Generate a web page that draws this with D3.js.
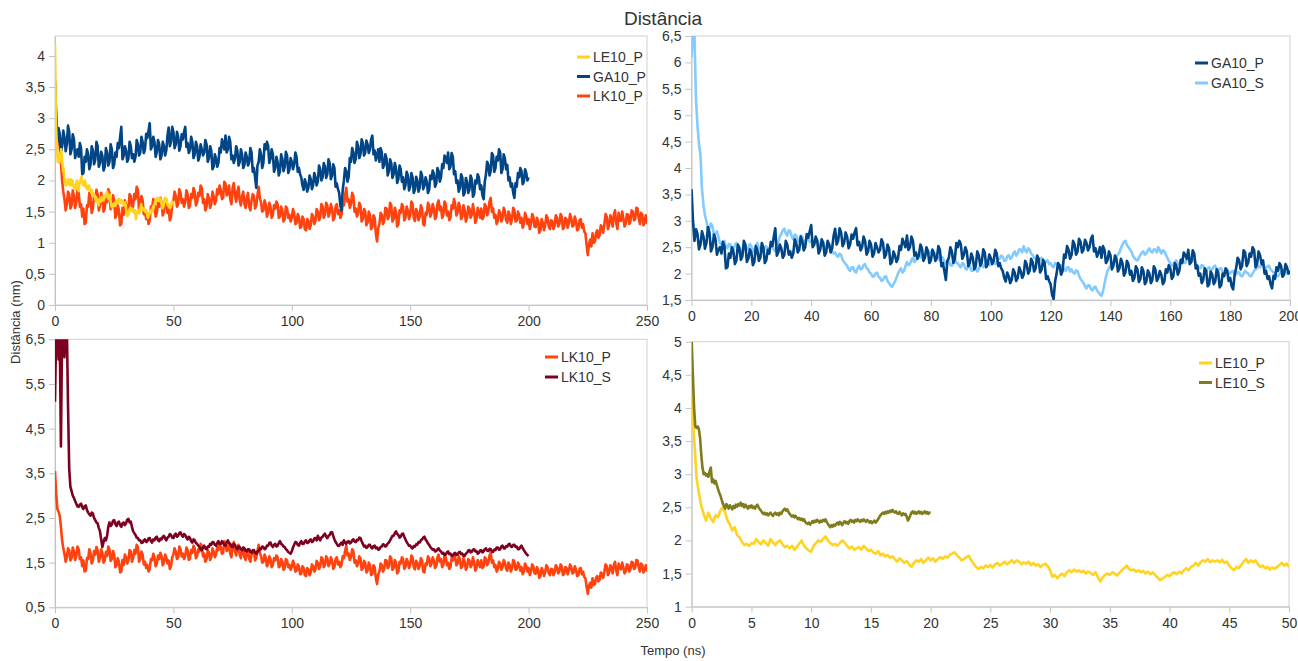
<!DOCTYPE html>
<html>
<head>
<meta charset="utf-8">
<script src="https://cdn.jsdelivr.net/npm/d3@7"></script>
<style>
  body { margin: 0; background: #ffffff; }
  svg { display: block; font-family: "Liberation Sans", Arial, sans-serif; }
</style>
</head>
<body>
<svg id="chart" width="1298" height="661"></svg>
<script>
// Sampling interval (ns) of each trajectory
const longStep = 0.5;
const le10pStep = 0.2;
const le10sStep = 0.1;

// GA10_P, 0–200 ns
const ga10P = [
  3.60, 3.00, 2.62, 2.84, 2.75, 2.46, 2.55, 2.80, 2.70, 2.47,
  2.58, 2.88, 2.78, 2.42, 2.50, 2.74, 2.66, 2.36, 2.45, 2.50,
  2.38, 2.60, 2.52, 2.10, 2.12, 2.38, 2.30, 2.50, 2.42, 2.18,
  2.25, 2.55, 2.48, 2.26, 2.33, 2.62, 2.55, 2.22, 2.28, 2.46,
  2.40, 2.16, 2.22, 2.52, 2.45, 2.24, 2.30, 2.58, 2.50, 2.20,
  2.26, 2.45, 2.38, 2.60, 2.52, 2.70, 2.86, 2.34, 2.40, 2.55,
  2.48, 2.30, 2.35, 2.62, 2.55, 2.36, 2.42, 2.30, 2.38, 2.65,
  2.58, 2.40, 2.45, 2.70, 2.62, 2.44, 2.50, 2.75, 2.68, 2.80,
  2.92, 2.50, 2.55, 2.70, 2.62, 2.38, 2.45, 2.65, 2.58, 2.34,
  2.40, 2.62, 2.55, 2.40, 2.48, 2.72, 2.85, 2.55, 2.62, 2.86,
  2.78, 2.52, 2.58, 2.78, 2.70, 2.48, 2.55, 2.74, 2.66, 2.78,
  2.86, 2.54, 2.60, 2.44, 2.50, 2.70, 2.62, 2.36, 2.42, 2.62,
  2.55, 2.32, 2.38, 2.58, 2.50, 2.40, 2.45, 2.65, 2.58, 2.30,
  2.36, 2.55, 2.48, 2.18, 2.22, 2.42, 2.35, 2.22, 2.28, 2.52,
  2.45, 2.66, 2.58, 2.50, 2.72, 2.45, 2.50, 2.70, 2.62, 2.34,
  2.40, 2.28, 2.35, 2.55, 2.48, 2.24, 2.30, 2.50, 2.42, 2.20,
  2.25, 2.45, 2.38, 2.24, 2.30, 2.52, 2.45, 2.14, 2.20, 2.05,
  1.88, 2.24, 2.30, 2.50, 2.42, 2.20, 2.28, 2.58, 2.50, 2.62,
  2.56, 2.28, 2.35, 2.50, 2.42, 2.14, 2.20, 2.38, 2.30, 2.08,
  2.15, 2.42, 2.35, 2.15, 2.22, 2.46, 2.40, 2.12, 2.18, 2.36,
  2.30, 2.18, 2.25, 2.45, 2.38, 2.14, 2.20, 2.10, 2.05, 1.92,
  1.85, 2.02, 1.95, 1.82, 1.88, 2.08, 2.02, 1.86, 1.92, 2.12,
  2.05, 1.92, 1.98, 2.24, 2.18, 2.00, 2.05, 2.28, 2.22, 2.04,
  2.10, 2.34, 2.28, 2.02, 2.08, 2.26, 2.20, 1.90, 1.95, 1.86,
  1.80, 1.60, 1.52, 1.85, 2.00, 2.20, 2.15, 1.98, 2.05, 2.36,
  2.30, 2.52, 2.45, 2.28, 2.35, 2.62, 2.55, 2.36, 2.42, 2.66,
  2.60, 2.40, 2.45, 2.64, 2.58, 2.44, 2.50, 2.66, 2.72, 2.42,
  2.48, 2.32, 2.40, 2.50, 2.30, 2.52, 2.45, 2.20, 2.25, 2.42,
  2.35, 2.08, 2.15, 2.34, 2.28, 2.04, 2.10, 2.28, 2.20, 1.96,
  2.02, 2.24, 2.18, 1.98, 2.05, 1.86, 1.92, 2.14, 2.08, 1.84,
  1.90, 2.12, 2.05, 1.80, 1.85, 2.06, 2.00, 1.82, 1.88, 2.14,
  2.08, 1.86, 1.92, 2.05, 1.98, 1.80, 1.85, 2.08, 2.02, 2.16,
  2.10, 1.90, 1.95, 2.20, 2.15, 1.98, 2.05, 2.26, 2.20, 2.40,
  2.35, 2.28, 2.45, 2.18, 2.22, 2.44, 2.38, 2.10, 2.15, 1.96,
  2.00, 1.82, 1.88, 2.10, 2.05, 1.76, 1.80, 2.04, 1.98, 1.80,
  1.85, 2.08, 2.02, 1.74, 1.78, 2.00, 1.95, 2.10, 2.05, 1.86,
  1.92, 1.76, 1.70, 1.98, 2.10, 2.30, 2.25, 2.08, 2.15, 2.44,
  2.40, 2.14, 2.20, 2.38, 2.32, 2.50, 2.45, 2.12, 2.18, 2.42,
  2.35, 2.18, 2.25, 2.00, 2.05, 1.90, 1.95, 1.80, 1.72, 1.96,
  1.90, 2.12, 2.05, 2.20, 2.15, 1.94, 1.98, 2.18, 2.12, 2.00,
  2.05
];

// GA10_S, 0–200 ns
const ga10S = [
  6.10, 6.60, 6.50, 5.30, 4.80, 4.45, 4.25, 3.60, 3.30, 3.10,
  3.00, 2.82, 2.85, 2.95, 2.90, 2.72, 2.75, 2.80, 2.70, 2.58,
  2.55, 2.60, 2.62, 2.50, 2.48, 2.56, 2.55, 2.44, 2.45, 2.54,
  2.58, 2.48, 2.50, 2.40, 2.42, 2.50, 2.55, 2.46, 2.48, 2.56,
  2.52, 2.42, 2.45, 2.54, 2.58, 2.48, 2.50, 2.40, 2.40, 2.50,
  2.52, 2.44, 2.46, 2.56, 2.55, 2.45, 2.42, 2.52, 2.60, 2.70,
  2.75, 2.82, 2.85, 2.76, 2.72, 2.82, 2.80, 2.70, 2.65, 2.74,
  2.72, 2.62, 2.62, 2.72, 2.70, 2.60, 2.58, 2.66, 2.68, 2.60,
  2.62, 2.52, 2.55, 2.64, 2.65, 2.56, 2.52, 2.60, 2.60, 2.50,
  2.48, 2.56, 2.55, 2.46, 2.42, 2.38, 2.40, 2.34, 2.32, 2.38,
  2.35, 2.26, 2.22, 2.18, 2.15, 2.08, 2.05, 2.12, 2.12, 2.04,
  2.02, 2.10, 2.15, 2.08, 2.10, 2.16, 2.18, 2.10, 2.08, 2.02,
  2.00, 1.94, 1.95, 2.00, 2.02, 1.94, 1.92, 1.86, 1.88, 1.94,
  1.95, 1.86, 1.82, 1.78, 1.75, 1.80, 1.85, 1.92, 2.00, 2.06,
  2.10, 2.02, 2.05, 2.14, 2.22, 2.16, 2.18, 2.26, 2.30, 2.22,
  2.25, 2.32, 2.35, 2.30, 2.40, 2.34, 2.32, 2.40, 2.45, 2.38,
  2.38, 2.46, 2.42, 2.34, 2.35, 2.28, 2.25, 2.32, 2.30, 2.22,
  2.18, 2.24, 2.25, 2.16, 2.15, 2.22, 2.28, 2.20, 2.20, 2.14,
  2.12, 2.20, 2.18, 2.10, 2.08, 2.14, 2.15, 2.06, 2.05, 2.10,
  2.12, 2.04, 2.08, 2.16, 2.20, 2.12, 2.15, 2.24, 2.22, 2.16,
  2.18, 2.24, 2.25, 2.18, 2.20, 2.28, 2.28, 2.34, 2.32, 2.24,
  2.25, 2.32, 2.35, 2.28, 2.30, 2.38, 2.42, 2.34, 2.38, 2.46,
  2.45, 2.40, 2.52, 2.44, 2.40, 2.48, 2.45, 2.38, 2.35, 2.30,
  2.28, 2.24, 2.22, 2.28, 2.30, 2.22, 2.18, 2.24, 2.25, 2.18,
  2.20, 2.14, 2.12, 2.20, 2.18, 2.10, 2.10, 2.16, 2.15, 2.08,
  2.05, 2.12, 2.12, 2.04, 2.08, 2.02, 2.00, 2.06, 2.05, 1.96,
  1.90, 1.86, 1.82, 1.76, 1.72, 1.78, 1.78, 1.70, 1.68, 1.74,
  1.75, 1.68, 1.65, 1.60, 1.58, 1.66, 1.80, 1.94, 2.05, 2.10,
  2.15, 2.14, 2.20, 2.26, 2.32, 2.36, 2.40, 2.48, 2.55, 2.60,
  2.62, 2.54, 2.50, 2.46, 2.42, 2.34, 2.30, 2.26, 2.25, 2.30,
  2.35, 2.40, 2.42, 2.36, 2.38, 2.44, 2.48, 2.42, 2.40, 2.46,
  2.45, 2.40, 2.50, 2.44, 2.38, 2.44, 2.42, 2.36, 2.30, 2.24,
  2.20, 2.16, 2.15, 2.22, 2.25, 2.18, 2.18, 2.24, 2.28, 2.22,
  2.20, 2.26, 2.30, 2.24, 2.22, 2.28, 2.28, 2.20, 2.15, 2.12,
  2.10, 2.16, 2.15, 2.08, 2.05, 2.10, 2.12, 2.06, 2.08, 2.13,
  2.15, 2.08, 2.05, 2.10, 2.10, 2.04, 2.02, 2.06, 2.08, 2.02,
  2.00, 2.04, 2.05, 1.98, 1.98, 2.03, 2.02, 1.96, 1.95, 2.00,
  2.05, 2.02, 2.00, 1.96, 1.95, 2.00, 2.05, 2.08, 2.10, 2.14,
  2.12, 2.16, 2.18, 2.12, 2.10, 2.14, 2.15, 2.08, 2.05, 2.02,
  2.00, 1.96, 1.95, 1.99, 2.02, 2.06, 2.08, 2.03, 2.00, 2.04,
  2.05
];

// LK10_P, 0–250 ns
const lk10P = [
  3.55, 3.05, 2.70, 2.64, 2.55, 2.30, 2.00, 1.82, 1.70, 1.52,
  1.62, 1.82, 1.78, 1.55, 1.60, 1.84, 1.75, 1.56, 1.65, 1.86,
  1.80, 1.58, 1.62, 1.42, 1.55, 1.30, 1.32, 1.60, 1.58, 1.80,
  1.72, 1.48, 1.55, 1.76, 1.68, 1.85, 1.78, 1.52, 1.60, 1.80,
  1.72, 1.50, 1.55, 1.74, 1.65, 1.86, 1.80, 1.54, 1.58, 1.76,
  1.68, 1.40, 1.45, 1.60, 1.52, 1.28, 1.30, 1.56, 1.45, 1.68,
  1.62, 1.48, 1.55, 1.78, 1.75, 1.52, 1.60, 1.78, 1.70, 1.90,
  1.85, 1.52, 1.58, 1.75, 1.68, 1.46, 1.52, 1.38, 1.45, 1.30,
  1.36, 1.58, 1.55, 1.70, 1.62, 1.42, 1.48, 1.66, 1.58, 1.72,
  1.65, 1.44, 1.50, 1.68, 1.62, 1.48, 1.55, 1.36, 1.42, 1.62,
  1.68, 1.82, 1.75, 1.58, 1.62, 1.86, 1.80, 1.64, 1.70, 1.58,
  1.65, 1.84, 1.78, 1.56, 1.60, 1.78, 1.72, 1.88, 1.82, 1.60,
  1.65, 1.80, 1.75, 1.92, 1.88, 1.64, 1.70, 1.52, 1.58, 1.78,
  1.72, 1.56, 1.62, 1.82, 1.75, 1.62, 1.68, 1.86, 1.78, 1.92,
  1.85, 1.70, 1.72, 1.98, 1.95, 1.76, 1.80, 1.92, 1.70, 1.62,
  1.88, 1.96, 1.75, 1.66, 1.82, 1.90, 1.68, 1.60, 1.75, 1.82,
  1.62, 1.56, 1.72, 1.80, 1.58, 1.52, 1.68, 1.78, 1.75, 1.55,
  1.60, 1.76, 1.90, 1.72, 1.65, 1.50, 1.52, 1.68, 1.62, 1.42,
  1.48, 1.64, 1.58, 1.40, 1.45, 1.60, 1.55, 1.66, 1.62, 1.40,
  1.42, 1.58, 1.52, 1.34, 1.38, 1.58, 1.55, 1.40, 1.45, 1.34,
  1.40, 1.54, 1.48, 1.30, 1.32, 1.46, 1.42, 1.24, 1.25, 1.42,
  1.38, 1.22, 1.20, 1.38, 1.35, 1.22, 1.28, 1.46, 1.42, 1.30,
  1.35, 1.54, 1.50, 1.36, 1.42, 1.62, 1.58, 1.40, 1.45, 1.64,
  1.60, 1.42, 1.48, 1.62, 1.55, 1.36, 1.40, 1.58, 1.62, 1.46,
  1.52, 1.40, 1.45, 1.64, 1.60, 1.76, 1.88, 1.66, 1.70, 1.56,
  1.62, 1.80, 1.75, 1.50, 1.55, 1.42, 1.48, 1.64, 1.60, 1.34,
  1.38, 1.54, 1.50, 1.28, 1.32, 1.50, 1.45, 1.22, 1.25, 1.44,
  1.40, 1.15, 1.02, 1.24, 1.30, 1.48, 1.45, 1.30, 1.35, 1.56,
  1.55, 1.38, 1.42, 1.64, 1.60, 1.34, 1.38, 1.56, 1.50, 1.26,
  1.30, 1.52, 1.48, 1.62, 1.58, 1.36, 1.40, 1.58, 1.52, 1.38,
  1.45, 1.66, 1.62, 1.40, 1.35, 1.54, 1.50, 1.36, 1.42, 1.60,
  1.55, 1.30, 1.28, 1.48, 1.45, 1.64, 1.60, 1.42, 1.48, 1.62,
  1.55, 1.38, 1.42, 1.62, 1.68, 1.52, 1.58, 1.40, 1.45, 1.66,
  1.62, 1.44, 1.50, 1.36, 1.40, 1.60, 1.55, 1.70, 1.62, 1.44,
  1.48, 1.64, 1.58, 1.38, 1.42, 1.60, 1.52, 1.34, 1.40, 1.58,
  1.55, 1.40, 1.45, 1.62, 1.50, 1.32, 1.38, 1.56, 1.48, 1.40,
  1.55, 1.38, 1.42, 1.62, 1.58, 1.44, 1.50, 1.66, 1.72, 1.50,
  1.55, 1.40, 1.45, 1.30, 1.35, 1.52, 1.48, 1.34, 1.40, 1.56,
  1.50, 1.36, 1.32, 1.50, 1.45, 1.30, 1.38, 1.56, 1.52, 1.34,
  1.35, 1.50, 1.45, 1.32, 1.40, 1.24, 1.30, 1.48, 1.42, 1.30,
  1.38, 1.22, 1.30, 1.46, 1.42, 1.26, 1.25, 1.40, 1.35, 1.16,
  1.20, 1.38, 1.32, 1.20, 1.28, 1.44, 1.40, 1.26, 1.22, 1.36,
  1.35, 1.22, 1.28, 1.44, 1.40, 1.26, 1.30, 1.46, 1.42, 1.22,
  1.25, 1.40, 1.38, 1.24, 1.32, 1.46, 1.40, 1.26, 1.28, 1.42,
  1.35, 1.20, 1.22, 1.36, 1.38, 1.24, 1.30, 1.18, 1.15, 0.96,
  0.80, 0.98, 1.05, 0.94, 1.15, 1.00, 1.02, 1.16, 1.20, 1.08,
  1.12, 1.28, 1.25, 1.16, 1.30, 1.46, 1.42, 1.22, 1.28, 1.44,
  1.38, 1.26, 1.45, 1.52, 1.32, 1.22, 1.48, 1.36, 1.35, 1.50,
  1.40, 1.26, 1.30, 1.46, 1.45, 1.30, 1.35, 1.52, 1.50, 1.36,
  1.38, 1.56, 1.55, 1.40, 1.30, 1.48, 1.45, 1.28, 1.35, 1.44,
  1.30
];

// LK10_S, 0–200 ns
const lk10S = [
  5.10, 6.70, 6.80, 6.05, 6.60, 4.10, 6.70, 6.80, 6.10, 6.80,
  6.80, 5.00, 3.60, 3.20, 3.10, 3.00, 2.95, 2.88, 2.82, 2.76,
  2.75, 2.80, 2.82, 2.74, 2.70, 2.76, 2.78, 2.68, 2.62, 2.58,
  2.55, 2.62, 2.60, 2.50, 2.45, 2.40, 2.38, 2.28, 2.20, 2.02,
  1.85, 1.96, 2.05, 2.00, 2.10, 2.30, 2.40, 2.32, 2.35, 2.44,
  2.45, 2.36, 2.32, 2.40, 2.42, 2.34, 2.30, 2.38, 2.40, 2.34,
  2.38, 2.46, 2.48, 2.40, 2.42, 2.30, 2.20, 2.16, 2.12, 2.06,
  2.05, 2.00, 2.00, 1.94, 1.95, 2.00, 2.02, 1.96, 1.98, 2.04,
  2.05, 1.98, 1.95, 2.02, 2.00, 2.06, 2.08, 2.00, 1.98, 2.04,
  2.02, 2.08, 2.10, 2.04, 2.00, 2.06, 2.08, 2.14, 2.12, 2.06,
  2.05, 2.12, 2.15, 2.08, 2.10, 2.16, 2.18, 2.12, 2.08, 2.14,
  2.12, 2.06, 2.02, 2.08, 2.05, 1.98, 1.95, 2.02, 2.00, 1.94,
  1.92, 1.88, 1.85, 1.80, 1.78, 1.84, 1.88, 1.82, 1.80, 1.86,
  1.85, 1.92, 1.90, 1.96, 1.95, 1.90, 1.88, 1.94, 1.98, 1.92,
  1.92, 1.98, 1.95, 1.90, 1.88, 1.95, 2.00, 1.94, 1.92, 1.86,
  1.85, 1.92, 1.90, 1.84, 1.80, 1.86, 1.85, 1.80, 1.78, 1.84,
  1.82, 1.76, 1.75, 1.80, 1.80, 1.74, 1.72, 1.77, 1.78, 1.72,
  1.70, 1.75, 1.76, 1.82, 1.80, 1.86, 1.85, 1.80, 1.82, 1.88,
  1.88, 1.94, 1.95, 1.88, 1.85, 1.90, 1.92, 1.86, 1.88, 1.94,
  1.98, 1.92, 1.90, 1.86, 1.85, 1.80, 1.78, 1.74, 1.72, 1.70,
  1.75, 1.84, 1.90, 1.96, 1.95, 1.90, 1.88, 1.94, 1.98, 1.92,
  1.92, 1.98, 2.00, 1.94, 1.95, 2.00, 2.02, 1.96, 1.98, 2.04,
  2.05, 2.00, 2.10, 2.04, 2.00, 2.06, 2.08, 2.12, 2.15, 2.08,
  2.05, 2.10, 2.12, 2.18, 2.18, 2.10, 2.02, 1.96, 1.92, 1.88,
  1.88, 1.92, 1.95, 1.90, 2.00, 1.95, 1.92, 1.97, 1.98, 1.93,
  1.95, 2.00, 2.02, 1.97, 1.96, 2.01, 2.00, 2.06, 2.05, 1.98,
  1.92, 1.86, 1.88, 1.83, 1.85, 1.90, 1.90, 1.84, 1.82, 1.87,
  1.88, 1.82, 1.84, 1.79, 1.80, 1.85, 1.86, 1.91, 1.90, 1.86,
  1.88, 1.93, 1.95, 2.00, 2.05, 2.10, 2.10, 2.16, 2.20, 2.14,
  2.12, 2.06, 2.08, 2.14, 2.15, 2.08, 2.02, 1.96, 1.92, 1.88,
  1.88, 1.84, 1.82, 1.87, 1.86, 1.91, 1.90, 1.96, 1.95, 2.00,
  2.02, 2.06, 2.08, 2.02, 1.98, 1.93, 1.90, 1.85, 1.82, 1.79,
  1.80, 1.75, 1.76, 1.80, 1.82, 1.77, 1.75, 1.70, 1.72, 1.67,
  1.68, 1.73, 1.75, 1.69, 1.70, 1.65, 1.66, 1.70, 1.72, 1.67,
  1.68, 1.73, 1.74, 1.69, 1.70, 1.65, 1.65, 1.70, 1.72, 1.77,
  1.78, 1.73, 1.74, 1.79, 1.80, 1.75, 1.76, 1.70, 1.72, 1.77,
  1.78, 1.73, 1.75, 1.80, 1.82, 1.77, 1.76, 1.81, 1.80, 1.75,
  1.74, 1.79, 1.78, 1.84, 1.84, 1.79, 1.80, 1.86, 1.88, 1.82,
  1.82, 1.87, 1.86, 1.91, 1.92, 1.86, 1.85, 1.90, 1.90, 1.85,
  1.86, 1.80, 1.80, 1.85, 1.88, 1.82, 1.78, 1.74, 1.70, 1.67,
  1.65
];

// LE10_P, 0–50 ns
const le10P = [
  4.20, 3.55, 2.95, 2.72, 2.52,  2.40, 2.30, 2.42, 2.33, 2.28,
  2.38, 2.35, 2.45, 2.50, 2.42,  2.30, 2.24, 2.15, 2.20, 2.08,
  2.05, 1.98, 1.93, 1.95, 1.92,  1.96, 1.95, 2.02, 1.98, 1.94,
  2.00, 1.96, 1.92, 2.02, 1.97,  1.93, 1.98, 2.00, 1.94, 1.90,
  1.92, 1.88, 1.92, 1.86, 1.90,  1.95, 2.00, 1.92, 1.88, 1.85,
  1.83, 1.92, 1.96, 2.00, 1.98,  2.02, 2.06, 2.00, 1.96, 1.93,
  1.95, 1.92, 1.96, 2.00, 1.97,  1.92, 1.88, 1.91, 1.86, 1.88,
  1.90, 1.86, 1.92, 1.88, 1.84,  1.86, 1.82, 1.80, 1.84, 1.78,
  1.80, 1.76, 1.78, 1.74, 1.76,  1.72, 1.68, 1.73, 1.70, 1.66,
  1.69, 1.64, 1.60, 1.66, 1.70,  1.68, 1.72, 1.66, 1.70, 1.74,
  1.70, 1.73, 1.68, 1.72, 1.75,  1.72, 1.76, 1.74, 1.78, 1.80,
  1.82, 1.78, 1.74, 1.70, 1.72,  1.75, 1.77, 1.70, 1.65, 1.60,
  1.57, 1.60, 1.58, 1.62, 1.60,  1.63, 1.59, 1.64, 1.66, 1.62,
  1.65, 1.68, 1.64, 1.67, 1.70,  1.66, 1.70, 1.68, 1.64, 1.67,
  1.65, 1.68, 1.63, 1.66, 1.62,  1.64, 1.60, 1.63, 1.65, 1.61,
  1.55, 1.45, 1.48, 1.43, 1.47,  1.50, 1.46, 1.52, 1.55, 1.52,
  1.56, 1.53, 1.55, 1.52, 1.54,  1.50, 1.53, 1.51, 1.48, 1.52,
  1.45, 1.38, 1.44, 1.48, 1.50,  1.48, 1.52, 1.50, 1.47, 1.51,
  1.55, 1.58, 1.62, 1.57, 1.55,  1.56, 1.53, 1.55, 1.52, 1.54,
  1.50, 1.53, 1.49, 1.52, 1.48,  1.44, 1.40, 1.42, 1.45, 1.48,
  1.46, 1.50, 1.52, 1.49, 1.53,  1.50, 1.55, 1.58, 1.55, 1.60,
  1.62, 1.66, 1.62, 1.67, 1.70,  1.68, 1.72, 1.67, 1.70, 1.68,
  1.70, 1.67, 1.71, 1.66, 1.68,  1.62, 1.58, 1.55, 1.60, 1.58,
  1.63, 1.68, 1.72, 1.66, 1.70,  1.67, 1.70, 1.64, 1.60, 1.62,
  1.58, 1.60, 1.56, 1.59, 1.57,  1.60, 1.63, 1.66, 1.62, 1.65,
  1.60
];

// LE10_S, 0–20 ns
const le10S = [
  5.00, 4.50, 4.00, 3.72, 3.70, 3.72, 3.68, 3.55, 3.30, 3.10,
  3.00, 3.02, 2.98, 3.00, 2.96, 3.05, 3.10, 2.88, 2.92, 2.86,
  2.90, 2.84, 2.78, 2.72, 2.68, 2.62, 2.56, 2.52, 2.48, 2.55,
  2.52, 2.48, 2.53, 2.50, 2.47, 2.52, 2.49, 2.54, 2.51, 2.55,
  2.53, 2.57, 2.52, 2.55, 2.50, 2.54, 2.51, 2.48, 2.52, 2.50,
  2.53, 2.49, 2.51, 2.48, 2.52, 2.54, 2.50, 2.47, 2.45, 2.42,
  2.40, 2.42, 2.39, 2.41, 2.38, 2.40, 2.42, 2.39, 2.37, 2.40,
  2.42, 2.39, 2.41, 2.38, 2.42, 2.40, 2.44, 2.46, 2.48, 2.45,
  2.47, 2.43, 2.40, 2.38, 2.36, 2.38, 2.35, 2.37, 2.34, 2.32,
  2.34, 2.31, 2.33, 2.30, 2.32, 2.28, 2.26, 2.25, 2.27, 2.24,
  2.26, 2.29, 2.27, 2.30, 2.28, 2.31, 2.29, 2.27, 2.30, 2.28,
  2.31, 2.29, 2.32, 2.28, 2.25, 2.22, 2.20, 2.23, 2.21, 2.24,
  2.22, 2.25, 2.27, 2.24, 2.28, 2.26, 2.23, 2.27, 2.29, 2.26,
  2.28, 2.25, 2.29, 2.31, 2.28, 2.30, 2.27, 2.31, 2.29, 2.32,
  2.30, 2.28, 2.31, 2.29, 2.32, 2.30, 2.28, 2.31, 2.29, 2.27,
  2.29, 2.26, 2.28, 2.30, 2.27, 2.29, 2.32, 2.35, 2.38, 2.40,
  2.42, 2.40, 2.43, 2.41, 2.44, 2.42, 2.45, 2.43, 2.46, 2.44,
  2.42, 2.44, 2.41, 2.40, 2.43, 2.40, 2.38, 2.41, 2.39, 2.40,
  2.36, 2.30, 2.33, 2.38, 2.42, 2.44, 2.41, 2.43, 2.40, 2.42,
  2.44, 2.41, 2.43, 2.40, 2.42, 2.44, 2.41, 2.43, 2.40, 2.42,
  2.42
];

// Axis ticks
const xTicks250 = [0, 50, 100, 150, 200, 250];
const xTicks200 = [0, 20, 40, 60, 80, 100, 120, 140, 160, 180, 200];
const xTicks50 = [0, 5, 10, 15, 20, 25, 30, 35, 40, 45, 50];
const yTicksA = [0, 0.5, 1, 1.5, 2, 2.5, 3, 3.5, 4];
const yTicksB = [1.5, 2, 2.5, 3, 3.5, 4, 4.5, 5, 5.5, 6, 6.5];
const yTicksC = [0.5, 1.5, 2.5, 3.5, 4.5, 5.5, 6.5];
const yTicksD = [1, 1.5, 2, 2.5, 3, 3.5, 4, 4.5, 5];

const titleText = "Distância";
const yTitle = "Distância (nm)";
const xTitle = "Tempo (ns)";

const series = {
  LE10_P: { values: le10P, step: le10pStep, color: "#ffd320" },
  LE10_S: { values: le10S, step: le10sStep, color: "#7f7c1c" },
  GA10_P: { values: ga10P, step: longStep, color: "#004586" },
  GA10_S: { values: ga10S, step: longStep, color: "#83caff" },
  LK10_P: { values: lk10P, step: longStep, color: "#ff420e" },
  LK10_S: { values: lk10S, step: longStep, color: "#7e0021" }
};

const panels = [
  { xDomain: [0, 250], xRange: [55, 647], yDomain: [0, 4.32], yRange: [305, 36],
    xTicks: xTicks250, yTicks: yTicksA,
    draw: ["LK10_P", "GA10_P", "LE10_P"], legend: ["LE10_P", "GA10_P", "LK10_P"],
    legendX: 577, legendY: 57, legendGap: 19.5 },
  { xDomain: [0, 200], xRange: [691.5, 1290], yDomain: [1.5, 6.5], yRange: [300, 36],
    xTicks: xTicks200, yTicks: yTicksB,
    draw: ["GA10_S", "GA10_P"], legend: ["GA10_P", "GA10_S"],
    legendX: 1195, legendY: 63, legendGap: 20 },
  { xDomain: [0, 250], xRange: [55, 647], yDomain: [0.5, 6.5], yRange: [607.3, 339.3],
    xTicks: xTicks250, yTicks: yTicksC,
    draw: ["LK10_P", "LK10_S"], legend: ["LK10_P", "LK10_S"],
    legendX: 545, legendY: 357, legendGap: 20 },
  { xDomain: [0, 50], xRange: [691.7, 1289], yDomain: [1, 5], yRange: [606.7, 341.7],
    xTicks: xTicks50, yTicks: yTicksD,
    draw: ["LE10_P", "LE10_S"], legend: ["LE10_P", "LE10_S"],
    legendX: 1199, legendY: 363, legendGap: 19.5 }
];

const svg = d3.select("#chart");
const fmt = d => String(d).replace(".", ",");
const frameColor = "#d0d0d0";
const textColor = "#333333";

panels.forEach((p, i) => {
  const x = d3.scaleLinear().domain(p.xDomain).range(p.xRange);
  const y = d3.scaleLinear().domain(p.yDomain).range(p.yRange);
  const g = svg.append("g");
  const [x0, x1] = p.xRange;
  const [yb, yt] = p.yRange;

  // plot frame
  g.append("rect")
    .attr("x", x0).attr("y", yt)
    .attr("width", x1 - x0).attr("height", yb - yt)
    .attr("fill", "none").attr("stroke", frameColor).attr("stroke-width", 1);

  const clipId = "clip" + i;
  svg.append("defs").append("clipPath").attr("id", clipId)
    .append("rect").attr("x", x0).attr("y", yt).attr("width", x1 - x0).attr("height", yb - yt);

  // axes
  const xAxis = g.append("g").attr("transform", `translate(0,${yb})`)
    .call(d3.axisBottom(x).tickValues(p.xTicks).tickFormat(fmt).tickSize(6).tickSizeOuter(0).tickPadding(5));
  const yAxis = g.append("g").attr("transform", `translate(${x0},0)`)
    .call(d3.axisLeft(y).tickValues(p.yTicks).tickFormat(fmt).tickSize(6).tickSizeOuter(0).tickPadding(4));
  [xAxis, yAxis].forEach(a => {
    a.select(".domain").attr("stroke", "#c4c4c4");
    a.selectAll(".tick line").attr("stroke", "#c4c4c4");
    a.selectAll(".tick text").attr("fill", textColor).style("font-size", "14px")
      .style("font-family", '"Liberation Sans", Arial, sans-serif');
  });

  // series lines
  const lines = g.append("g").attr("clip-path", `url(#${clipId})`);
  p.draw.forEach(name => {
    const s = series[name];
    const line = d3.line()
      .x((d, k) => x(k * s.step))
      .y(d => y(d));
    lines.append("path")
      .datum(s.values)
      .attr("d", line)
      .attr("fill", "none")
      .attr("stroke", s.color)
      .attr("stroke-width", 2.6)
      .attr("stroke-linejoin", "round");
  });

  // legend
  const lg = g.append("g");
  p.legend.forEach((name, k) => {
    const ly = p.legendY + k * p.legendGap;
    lg.append("line")
      .attr("x1", p.legendX).attr("x2", p.legendX + 13)
      .attr("y1", ly).attr("y2", ly)
      .attr("stroke", series[name].color).attr("stroke-width", 3);
    lg.append("text")
      .attr("x", p.legendX + 16).attr("y", ly + 5)
      .attr("fill", textColor).style("font-size", "14px")
      .text(name);
  });
});

// titles
svg.append("text")
  .attr("x", 663).attr("y", 25)
  .attr("text-anchor", "middle")
  .attr("fill", textColor).style("font-size", "19px")
  .text(titleText);

svg.append("text")
  .attr("transform", "translate(20,322) rotate(-90)")
  .attr("text-anchor", "middle")
  .attr("fill", textColor).style("font-size", "13px")
  .text(yTitle);

svg.append("text")
  .attr("x", 673).attr("y", 655)
  .attr("text-anchor", "middle")
  .attr("fill", textColor).style("font-size", "13px")
  .text(xTitle);
</script>
</body>
</html>
